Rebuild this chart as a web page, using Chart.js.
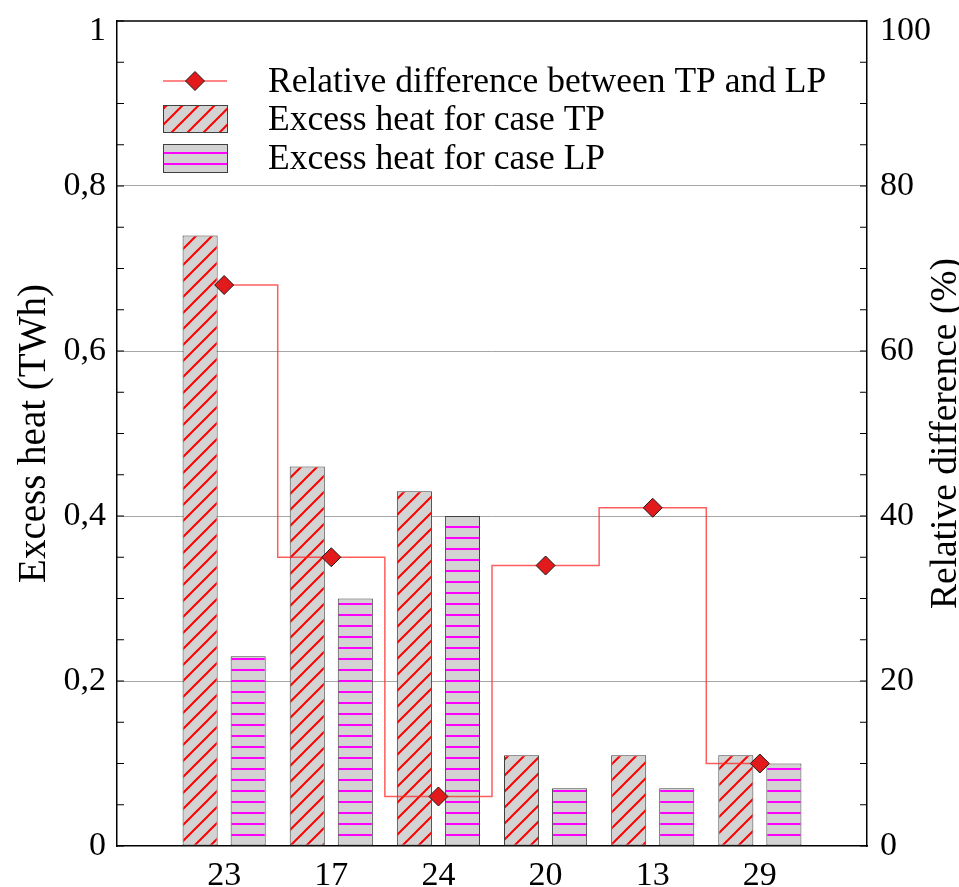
<!DOCTYPE html>
<html><head><meta charset="utf-8">
<script src="https://cdn.jsdelivr.net/npm/chart.js@4.4.1/dist/chart.umd.min.js"></script>
<style>html,body{margin:0;padding:0;background:#fff;}canvas{display:block;}</style>
</head><body>
<canvas id="c" width="959" height="887"></canvas>
<script>
const categories = ['23', '17', '24', '20', '13', '29'];
const excessTP = [0.74, 0.46, 0.43, 0.11, 0.11, 0.11];
const excessLP = [0.23, 0.30, 0.40, 0.07, 0.07, 0.10];
const relDiff = [68, 35, 6, 34, 41, 10];
const leftTickLabels = ['0', '0,2', '0,4', '0,6', '0,8', '1'];
const rightTickLabels = ['0', '20', '40', '60', '80', '100'];
const seriesNames = ['Relative difference between TP and LP', 'Excess heat for case TP', 'Excess heat for case LP'];
const axisTitles = ['Excess heat (TWh)', 'Relative difference (%)'];

const FONT = "'Liberation Serif', 'Times New Roman', serif";
const canvas = document.getElementById('c');
const ctx = canvas.getContext('2d');

function makeDiagPattern() {
  const s = 16;
  const t = document.createElement('canvas'); t.width = s; t.height = s;
  const g = t.getContext('2d');
  g.fillStyle = '#d3d3d3'; g.fillRect(0, 0, s, s);
  g.strokeStyle = '#ff0000'; g.lineWidth = 2;
  g.beginPath();
  g.moveTo(-2, s + 2); g.lineTo(s + 2, -2);
  g.moveTo(-2, 2); g.lineTo(2, -2);
  g.moveTo(s - 2, s + 2); g.lineTo(s + 2, s - 2);
  g.stroke();
  return ctx.createPattern(t, 'repeat');
}
function makeHorizPattern() {
  const w = 8, h = 11;
  const t = document.createElement('canvas'); t.width = w; t.height = h;
  const g = t.getContext('2d');
  g.fillStyle = '#d3d3d3'; g.fillRect(0, 0, w, h);
  g.fillStyle = '#ff00ff'; g.fillRect(0, 9, w, 2);
  return ctx.createPattern(t, 'repeat');
}
const patTP = makeDiagPattern();
const patLP = makeHorizPattern();

const LINE_COLOR = 'rgba(255,40,40,0.75)';
const PT_FILL = '#e31a1c';
const PT_BORDER = '#1a1a1a';

// top-most tick labels sit a little below their tick (kept inside the frame)
function tickLabel(labels, i) {
  return i === labels.length - 1 ? ['', labels[i]] : labels[i];
}
function tickFont(c, n) {
  return { family: FONT, size: 34, lineHeight: c.index === n - 1 ? 0.6 : 1.2 };
}

const decorPlugin = {
  id: 'decor',
  afterDraw(chart) {
    const c = chart.ctx;
    const a = chart.chartArea;
    const yl = chart.scales.y, yr = chart.scales.y1;
    c.save();
    c.strokeStyle = '#000'; c.lineWidth = 1.5;
    c.beginPath(); c.moveTo(a.left, a.top); c.lineTo(a.right, a.top); c.stroke();
    c.lineWidth = 1.2;
    c.beginPath();
    for (let i = 0; i <= 20; i++) {
      const py = yl.getPixelForValue(i * 0.05);
      c.moveTo(a.left, py); c.lineTo(a.left + 7, py);
      const pr = yr.getPixelForValue(i * 5);
      c.moveTo(a.right, pr); c.lineTo(a.right - 7, pr);
    }
    c.stroke();
    c.fillStyle = '#000';
    c.font = "37.5px " + FONT;
    c.translate(946, (a.top + a.bottom) / 2);
    c.rotate(-Math.PI / 2);
    c.textAlign = 'center'; c.textBaseline = 'middle';
    c.fillText(axisTitles[1], 0, 0);
    c.restore();

    c.save();
    const x0 = 163, x1 = 227;
    c.strokeStyle = LINE_COLOR; c.lineWidth = 1.5;
    c.beginPath(); c.moveTo(x0, 81); c.lineTo(x1, 81); c.stroke();
    const cx = 195, cy = 81, r = 9.5;
    c.beginPath(); c.moveTo(cx, cy - r); c.lineTo(cx + r, cy); c.lineTo(cx, cy + r); c.lineTo(cx - r, cy); c.closePath();
    c.fillStyle = PT_FILL; c.fill(); c.strokeStyle = PT_BORDER; c.lineWidth = 1; c.stroke();
    c.fillStyle = patTP; c.fillRect(x0, 105, x1 - x0, 27);
    c.strokeStyle = '#404040'; c.lineWidth = 1; c.strokeRect(x0 + 0.5, 105.5, x1 - x0, 27);
    c.fillStyle = patLP; c.fillRect(x0, 144, x1 - x0, 28);
    c.strokeRect(x0 + 0.5, 144.5, x1 - x0, 28);
    c.fillStyle = '#000';
    c.font = "35.5px " + FONT;
    c.textAlign = 'left'; c.textBaseline = 'alphabetic';
    c.fillText(seriesNames[0], 268, 92);
    c.fillText(seriesNames[1], 268, 130);
    c.fillText(seriesNames[2], 268, 169);
    c.restore();
  }
};

new Chart(ctx, {
  type: 'bar',
  data: {
    datasets: [
      {
        type: 'line',
        label: seriesNames[0],
        data: relDiff.map((v, i) => ({ x: i + 1, y: v })),
        yAxisID: 'y1',
        xAxisID: 'x',
        stepped: 'middle',
        borderColor: LINE_COLOR,
        borderWidth: 1.5,
        fill: false,
        pointStyle: 'rectRot',
        pointRadius: 9.5,
        pointBackgroundColor: PT_FILL,
        pointBorderColor: PT_BORDER,
        pointBorderWidth: 1,
        order: 0
      },
      {
        label: seriesNames[1],
        data: excessTP.map((v, i) => ({ x: i + 1, y: v })),
        yAxisID: 'y',
        backgroundColor: patTP,
        borderColor: '#404040',
        borderWidth: 1,
        borderSkipped: false,
        categoryPercentage: 0.897,
        barPercentage: 0.73,
        order: 1
      },
      {
        label: seriesNames[2],
        data: excessLP.map((v, i) => ({ x: i + 1, y: v })),
        yAxisID: 'y',
        backgroundColor: patLP,
        borderColor: '#404040',
        borderWidth: 1,
        borderSkipped: false,
        categoryPercentage: 0.897,
        barPercentage: 0.73,
        order: 1
      }
    ]
  },
  options: {
    responsive: false,
    animation: false,
    devicePixelRatio: 1,
    layout: { padding: { top: 21, left: 0, right: 0, bottom: 0 } },
    plugins: { legend: { display: false }, tooltip: { enabled: false } },
    scales: {
      x: {
        type: 'linear', min: 0, max: 7, offset: false,
        grid: { display: false, drawTicks: false },
        border: { display: true, color: '#000', width: 1.5 },
        ticks: {
          stepSize: 1, autoSkip: false, maxRotation: 0, padding: 10, color: '#000',
          font: { family: FONT, size: 34 },
          callback: (v) => categories[v - 1] ?? ''
        },
        afterFit(s) { s.height = 41; s.paddingLeft = 0; s.paddingRight = 0; }
      },
      y: {
        position: 'left', min: 0, max: 1,
        grid: {
          drawTicks: false, lineWidth: 1,
          color: (c) => (c.tick && c.tick.value > 0.01 && c.tick.value < 0.99) ? '#a6a6a6' : 'rgba(0,0,0,0)'
        },
        border: { color: '#000', width: 1.5 },
        ticks: {
          stepSize: 0.2, padding: 11, color: '#000',
          font: (c) => tickFont(c, leftTickLabels.length),
          callback: (v, i) => tickLabel(leftTickLabels, i)
        },
        title: {
          display: true, text: axisTitles[0], color: '#000',
          font: { family: FONT, size: 39, lineHeight: 1.2 },
          padding: { top: 11, bottom: 0 }
        },
        afterFit(s) { s.width = 117; s.paddingTop = 0; s.paddingBottom = 0; }
      },
      y1: {
        position: 'right', min: 0, max: 100,
        grid: { display: false, drawTicks: false },
        border: { color: '#000', width: 1.5 },
        ticks: {
          stepSize: 20, padding: 13, color: '#000',
          font: (c) => tickFont(c, rightTickLabels.length),
          callback: (v, i) => tickLabel(rightTickLabels, i)
        },
        afterFit(s) { s.width = 92; s.paddingTop = 0; s.paddingBottom = 0; }
      }
    }
  },
  plugins: [decorPlugin]
});
</script>
</body></html>
